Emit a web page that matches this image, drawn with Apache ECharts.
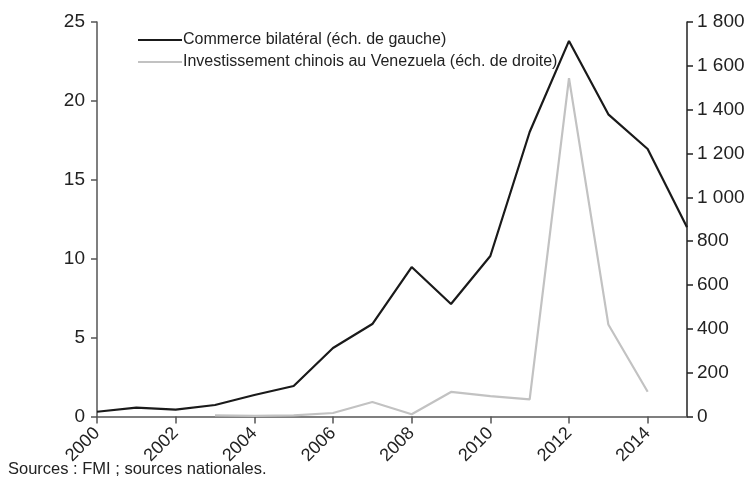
<!DOCTYPE html>
<html>
<head>
<meta charset="utf-8">
<script src="https://cdn.jsdelivr.net/npm/echarts@6/dist/echarts.min.js"></script>
<style>
html,body{margin:0;padding:0;background:#fff;}
#c{width:749px;height:483px;}
</style>
</head>
<body>
<div id="c"></div>
<script>
const years = ['2000','2001','2002','2003','2004','2005','2006','2007','2008','2009','2010','2011','2012','2013','2014','2015'];
const commerce = [0.3, 0.56, 0.43, 0.73, 1.36, 1.93, 4.34, 5.86, 9.47, 7.13, 10.17, 18.03, 23.8, 19.15, 16.95, 12.0];
const investissement = [null, null, null, 5, 3, 5, 16, 66, 10, 112, 93, 78, 1544, 420, 113, null];
const leftTicks = [0, 5, 10, 15, 20, 25];
const rightTicks = [0, 200, 400, 600, 800, 1000, 1200, 1400, 1600, 1800];
const nameCommerce = 'Commerce bilatéral (éch. de gauche)';
const nameInvest = 'Investissement chinois au Venezuela (éch. de droite)';

const font = 'Liberation Sans, Arial, sans-serif';
const axisColor = '#555';
const chart = echarts.init(document.getElementById('c'));
chart.setOption({
  animation: false,
  grid: {left: 97, right: 62, top: 22, bottom: 66.5},
  legend: {
    left: 133, top: 27, orient: 'vertical', itemWidth: 44, itemHeight: 2, itemGap: 6,
    icon: 'rect',
    textStyle: {fontFamily: font, fontSize: 16, color: '#222', padding: [0,0,0,-4]},
    data: [nameCommerce, nameInvest]
  },
  graphic: [{
    type: 'text', left: 8, top: 461,
    style: {text: 'Sources : FMI ; sources nationales.', font: '16.5px ' + font, fill: '#222'}
  }],
  xAxis: {
    type: 'category', data: years, boundaryGap: false,
    axisLine: {lineStyle: {color: axisColor, width: 1.5}},
    axisTick: {interval: 1, length: 7, lineStyle: {color: axisColor, width: 1.5}},
    axisLabel: {interval: 1, rotate: 45, fontFamily: font, fontSize: 18, color: '#222', margin: 14},
    splitLine: {show: false}
  },
  yAxis: [{
    type: 'value', min: leftTicks[0], max: leftTicks[leftTicks.length-1], interval: 5, position: 'left',
    axisLine: {show: true, lineStyle: {color: axisColor, width: 1.5}},
    axisTick: {show: true, length: 6, lineStyle: {color: axisColor, width: 1.5}},
    axisLabel: {fontFamily: font, fontSize: 19, color: '#222', margin: 12},
    splitLine: {show: false}
  }, {
    type: 'value', min: rightTicks[0], max: rightTicks[rightTicks.length-1], interval: 200, position: 'right',
    axisLine: {show: true, lineStyle: {color: '#222', width: 1.5}},
    axisTick: {show: true, length: 6, lineStyle: {color: '#222', width: 1.5}},
    axisLabel: {fontFamily: font, fontSize: 19, color: '#222', margin: 10,
      formatter: v => String(v).replace(/\B(?=(\d{3})+(?!\d))/g, ' ')},
    splitLine: {show: false}
  }],
  series: [{
    name: nameCommerce, type: 'line', data: commerce, yAxisIndex: 0,
    symbol: 'none', lineStyle: {color: '#1a1a1a', width: 2.2}, itemStyle: {color: '#1a1a1a'}, z: 3
  }, {
    name: nameInvest, type: 'line', data: investissement, yAxisIndex: 1,
    symbol: 'none', lineStyle: {color: '#c2c2c2', width: 2.2}, itemStyle: {color: '#c2c2c2'}, z: 2
  }]
});
</script>
</body>
</html>
